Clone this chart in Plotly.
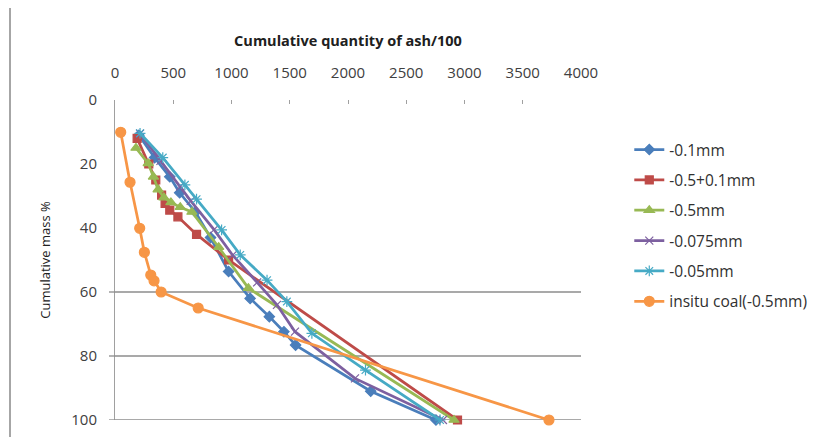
import plotly.graph_objects as go

# Data (cumulative quantity of ash/100 vs cumulative mass %)
names = ["-0.1mm", "-0.5+0.1mm", "-0.5mm", "-0.075mm", "-0.05mm", "insitu coal(-0.5mm)"]

x_01 = [205, 340, 470, 555, 690, 820, 975, 1160, 1325, 1450, 1550, 2195, 2755]
y_01 = [11, 18, 24, 29, 35, 43, 53.6, 62, 67.7, 72.4, 76.6, 91, 100]

x_05_01 = [190, 290, 350, 400, 430, 470, 540, 700, 975, 2940]
y_05_01 = [12, 20, 25, 29.7, 32.3, 34.4, 36.5, 42, 50, 100]

x_05 = [180, 285, 330, 370, 420, 480, 560, 660, 890, 1145, 2910]
y_05 = [15, 19.8, 24, 28, 30.5, 32, 33.5, 35, 46, 58.8, 100]

x_0075 = [215, 390, 560, 650, 850, 1010, 1220, 1390, 1545, 2060, 2815]
y_0075 = [10.5, 19, 27, 31.5, 40.5, 48.5, 57, 64, 72.4, 87, 100]

x_005 = [215, 410, 600, 700, 915, 1075, 1305, 1475, 1690, 2150, 2790]
y_005 = [10.4, 18, 26.5, 31, 40.6, 48.4, 56.3, 63, 72.9, 84.4, 100]

x_insitu = [49, 129, 212, 252, 307, 335, 396, 714, 3725]
y_insitu = [10.1, 25.7, 40.1, 47.6, 54.7, 56.5, 60, 65, 100]

x_ticks = [0, 500, 1000, 1500, 2000, 2500, 3000, 3500, 4000]
y_ticks = [0, 20, 40, 60, 80, 100]
grid_vals = [60, 80, 100]

series = [
    (x_01, y_01, "#4A7EBB", "diamond", 8),
    (x_05_01, y_05_01, "#BE4B48", "square", 8),
    (x_05, y_05, "#98B954", "triangle-up", 9),
    (x_0075, y_0075, "#7D60A0", "x-thin-open", 8),
    (x_005, y_005, "#46AAC5", "asterisk-open", 9),
    (x_insitu, y_insitu, "#F79646", "circle", 10),
]

fig = go.Figure()
for i, (xs, ys, col, sym, sz) in enumerate(series):
    fig.add_trace(go.Scatter(
        x=xs, y=ys, mode="lines+markers", name=names[i],
        legendgroup=f"g{i}", cliponaxis=False,
        line=dict(color=col, width=2.75),
        marker=dict(symbol=sym, size=sz, color=col,
                    line=dict(color=col, width=1.2)),
    ))

font_fam = "'Open Sans', 'Liberation Sans', sans-serif"

# the page body adds an 8px offset; margins are shifted to compensate
plot_w = 466
fig.update_layout(
    width=815, height=437,
    margin=dict(l=107, r=242, t=92, b=25, autoexpand=False),
    paper_bgcolor="white", plot_bgcolor="white",
    font=dict(family=font_fam, size=12, color="#404040"),
    xaxis=dict(
        side="top", range=[0, 4000], tickvals=x_ticks,
        ticktext=[str(v) for v in x_ticks],
        showgrid=False, zeroline=False, showline=False, automargin=False,
        ticks="inside", ticklen=4, tickcolor="#A0A0A0",
        ticklabelstandoff=18,
        tickfont=dict(size=15, color="#404040"),
        title=dict(text="<b>Cumulative quantity of ash/100</b>",
                   font=dict(size=14.5, color="#202020"), standoff=11),
    ),
    yaxis=dict(
        range=[100, 0], tickvals=y_ticks,
        ticktext=[str(v) for v in y_ticks],
        showgrid=False, zeroline=False, automargin=False,
        showline=True, linecolor="#A0A0A0", linewidth=1,
        ticks="", ticklabelstandoff=14, ticklabeloverflow="allow",
        tickfont=dict(size=15, color="#404040"),
        title=dict(text="Cumulative mass %", font=dict(size=13, color="#202020"),
                   standoff=17),
    ),
    legend=dict(
        x=1.1036, xanchor="left", y=0.897, yanchor="top",
        font=dict(family=font_fam, size=15.5, color="#303030"),
        tracegroupgap=7.2, traceorder="grouped",
        bgcolor="rgba(0,0,0,0)", itemwidth=30,
    ),
    showlegend=True,
)

# horizontal gridlines and left tick marks at 60/80/100
for v in grid_vals:
    fig.add_shape(type="line", xref="paper", yref="y", x0=0, x1=1, y0=v, y1=v,
                  layer="below", line=dict(color="#8C8C8C", width=1.3))
    fig.add_shape(type="line", xref="paper", yref="y", x0=-6 / plot_w, x1=0,
                  y0=v, y1=v, line=dict(color="#8C8C8C", width=1.3))

# chart frame left edge
fig.add_shape(type="line", xref="paper", yref="paper",
              x0=(2 - 107) / plot_w, x1=(2 - 107) / plot_w,
              y0=-0.2, y1=1.5, line=dict(color="#888888", width=1.5))

fig.write_html("out.html")
